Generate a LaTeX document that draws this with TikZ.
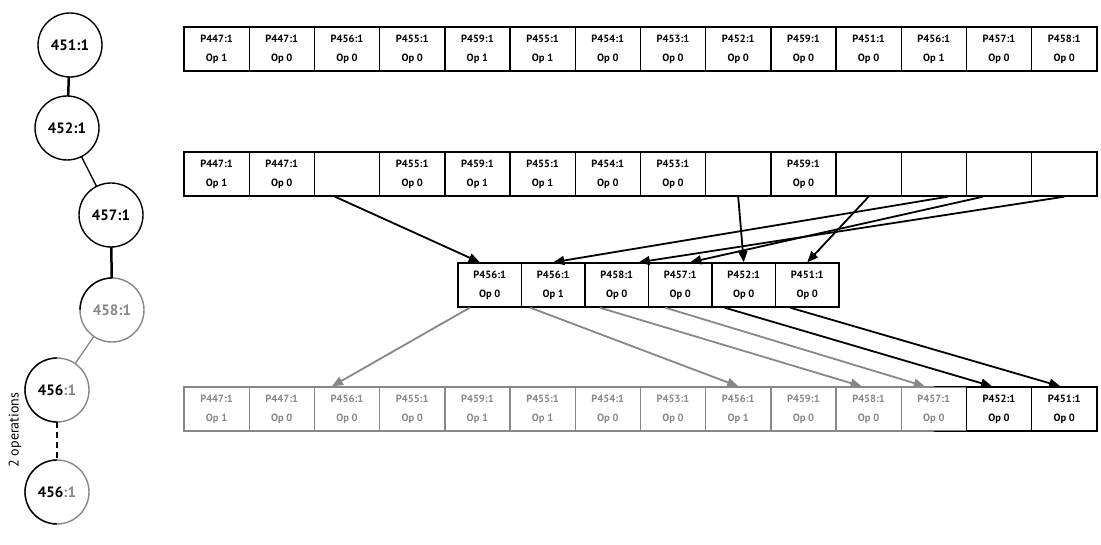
\documentclass[tikz,border=0pt]{standalone}
\usepackage{fontspec}
\setmainfont{PT Sans}
\usepackage{tikz}
\usetikzlibrary{arrows.meta}
\definecolor{Ck}{RGB}{0,0,0}
\definecolor{Cg}{RGB}{135,135,135}

\tikzset{
  slot/.style={draw=Ck,line width=1.4pt,minimum width=65.2pt,minimum height=44pt,
    inner sep=0pt,align=center,font=\bfseries\fontsize{10.5}{19}\selectfont},
  hop/.style={line width=1.8pt,-{Triangle[length=11pt,width=9pt]}},
  vert/.style={circle,draw=Ck,line width=1.4pt,minimum size=64pt,inner sep=0pt,
    outer sep=0pt,font=\bfseries\fontsize{15}{16}\selectfont}
}

\begin{document}
\begin{tikzpicture}[x=1pt,y=-1pt]
  \useasboundingbox (0,0) rectangle (1101,545);
  % the tree
  \node[vert] (n451) at (70,45) {451:1};
  \node[vert] (n452) at (67,128) {452:1};
  \node[vert] (n457) at (111,215) {457:1};
  \node[vert,draw=Cg,text=Cg] (n458) at (112,310) {458:1};
  \node[vert,draw=Cg] (n456a) at (57,390) {456\textcolor{Cg}{:1}};
  \node[vert,draw=Cg] (n456b) at (57,492) {456\textcolor{Cg}{:1}};
  % y points down, so the arcs run the other way
  \draw[Ck,line width=1.4pt] (n458.north) arc[start angle=-90,end angle=-180,radius=32];
  \draw[Ck,line width=1.4pt] (n456a.north) arc[start angle=-90,end angle=-270,radius=32];
  \draw[Ck,line width=1.4pt] (n456b.north) arc[start angle=-90,end angle=-270,radius=32];
  \draw[Ck,line width=2.5pt] (n451) -- (n452);
  \draw[Ck,line width=1.3pt] (n452) -- (n457);
  \draw[Ck,line width=2.5pt] (n457) -- (n458);
  \draw[Cg,line width=1.3pt] (n458) -- (n456a);
  \draw[Ck,line width=2pt,dash pattern=on 6pt off 4pt] (n456a) -- (n456b);
  \node[rotate=90,font=\fontsize{14}{15}\selectfont] (ops) at (15,430) {2 operations};

  % the lists
  \foreach \p/\o [count=\i] in {447/1,447/0,456/0,455/0,459/1,455/1,454/0,
      453/0,452/0,459/0,451/0,456/1,457/0,458/0}
    \node[slot] (t\i) at ({184+65.2*(\i-0.5)},49) {P\p:1\\Op \o};
  \foreach \txt [count=\i] in {{P447:1\\Op 1},{P447:1\\Op 0},{},{P455:1\\Op 0},
      {P459:1\\Op 1},{P455:1\\Op 1},{P454:1\\Op 0},{P453:1\\Op 0},{},
      {P459:1\\Op 0},{},{},{},{}}
    \node[slot] (r\i) at ({184+65.2*(\i-0.5)},174) {\txt};
  \foreach \p/\o [count=\i] in {456/0,456/1,458/0,457/0,452/0,451/0}
    \node[slot,minimum width=63.5pt] (m\i) at ({458+63.5*(\i-0.5)},285) {P\p:1\\Op \o};
  \foreach \p/\o/\c [count=\i] in {447/1/Cg,447/0/Cg,456/0/Cg,455/0/Cg,459/1/Cg,
      455/1/Cg,454/0/Cg,453/0/Cg,456/1/Cg,459/0/Cg,458/0/Cg,457/0/Cg,452/0/Ck,451/0/Ck}
    \node[slot,draw=\c,text=\c] (b\i) at ({184+65.2*(\i-0.5)},409) {P\p:1\\Op \o};
  \draw[Ck,line width=1.4pt] (b12.north) -- (b12.north east)
    (b12.south) -- (b12.south east);

  % taken out
  \draw[hop,Ck] ([xshift=-12pt]r3.south) -- ([xshift=-10pt]m1.north);
  \draw[hop,Ck] (r9.south) -- (m5.north);
  \draw[hop,Ck] (r11.south) -- (m6.north);
  \draw[hop,Ck] ([xshift=14pt]r12.south) -- (m2.north);
  \draw[hop,Ck] ([xshift=-16pt]r13.south) -- ([xshift=10pt]m4.north);
  \draw[hop,Ck] (r14.south) -- ([xshift=22pt]m3.north);
  % put back
  \draw[hop,Cg] ([xshift=-20pt]m1.south) -- ([xshift=-15pt]b3.north);
  \draw[hop,Cg] ([xshift=-23pt]m2.south) -- (b9.north);
  \draw[hop,Cg] ([xshift=-17pt]m3.south) -- ([xshift=-7pt]b11.north);
  \draw[hop,Cg] ([xshift=-15pt]m4.south) -- ([xshift=-9pt]b12.north);
  \draw[hop,Ck] ([xshift=-19pt]m5.south) -- ([xshift=-7pt]b13.north);
  \draw[hop,Ck] ([xshift=-17pt]m6.south) -- ([xshift=-4pt]b14.north);
\end{tikzpicture}
\end{document}
